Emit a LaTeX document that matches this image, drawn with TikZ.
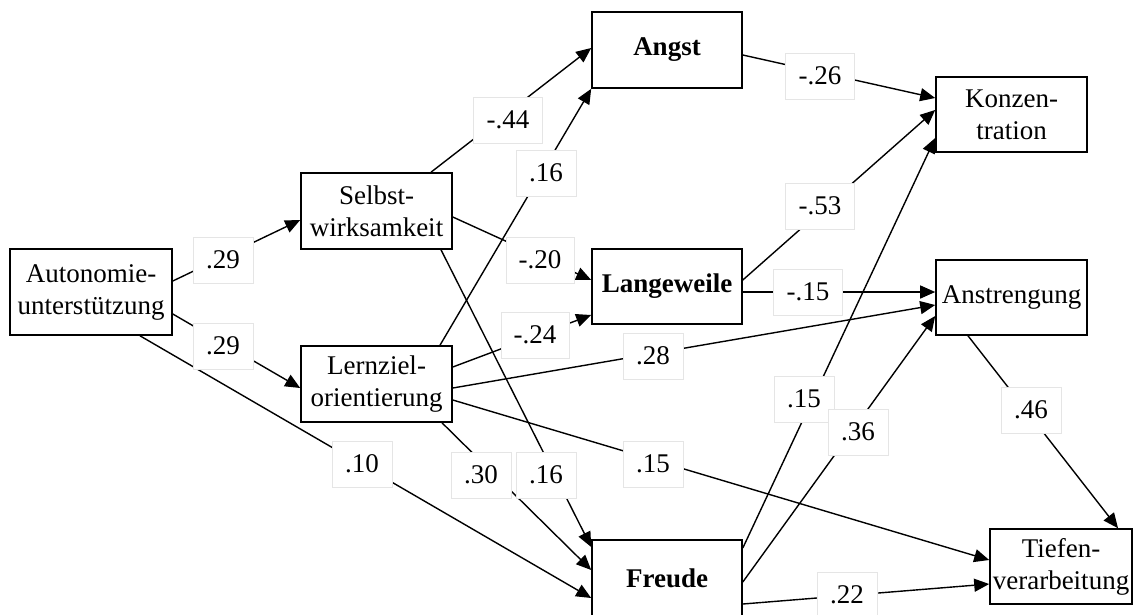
\documentclass[tikz,border=0pt]{standalone}
\usepackage{fontspec}
\setmainfont{Liberation Serif}
\usetikzlibrary{arrows.meta,calc}

\begin{document}
\begin{tikzpicture}[x=1pt,y=-1pt,
  every node/.style={font=\fontsize{27}{32}\selectfont},
  var/.style={draw, line width=1.6pt, inner sep=0pt, align=center,
    minimum width=151pt, minimum height=76pt},
  emph/.style={font=\fontsize{27}{32}\selectfont\bfseries},
  coef/.style={draw=black!10, fill=white, line width=0.8pt, inner sep=0pt,
    minimum width=60pt, minimum height=46pt},
  neg/.style={coef, minimum width=69pt},
  path/.style={line width=1.4pt, -{Triangle[length=15pt,width=13pt]}}]

\useasboundingbox (0,0) rectangle (1134,614);
\clip (0,0) rectangle (1134,614);

% constructs
\node[var, minimum width=162pt, minimum height=86pt] (auto) at (91,292) {Autonomie-\\unterstützung};
\node[var] (selbst) at (376.5,211) {Selbst-\\wirksamkeit};
\node[var] (lern) at (376.5,384) {Lernziel-\\orientierung};
\node[var, emph, minimum width=150pt] (angst) at (667,50) {Angst};
\node[var, emph, minimum width=150pt, minimum height=75pt] (lang) at (667,286.5) {Langeweile};
\node[var, emph, minimum width=150pt] (freude) at (667,578) {Freude};
\node[var, minimum height=75pt] (konz) at (1011.5,114.5) {Konzen-\\tration};
\node[var, minimum height=75pt] (anstr) at (1011.5,297.5) {Anstrengung};
\node[var, minimum width=142pt, minimum height=75pt] (tiefen) at (1061,566.5) {Tiefen-\\verarbeitung};

% paths
\draw[path] ($(auto.east)+(0,-11)$) -- ($(selbst.west)+(0,9)$);
\draw[path] ($(auto.east)+(0,22)$) -- ($(lern.west)+(0,4)$);
\draw[path] ($(auto.south)+(49,0)$) -- ($(freude.west)+(0,20)$);
\draw[path] ($(selbst.north)+(54.5,0)$) -- ($(angst.west)+(0,-2)$);
\draw[path] ($(selbst.east)+(0,6)$) -- ($(lang.west)+(0,-6.5)$);
\draw[path] ($(selbst.south)+(64.5,0)$) -- ($(freude.west)+(0,-31)$);
\draw[path] ($(lern.north)+(63.5,0)$) -- (angst.south west);
\draw[path] ($(lern.east)+(0,-17)$) -- ($(lang.west)+(0,28.5)$);
\draw[path] ($(lern.east)+(0,4)$) -- ($(anstr.west)+(0,7.5)$);
\draw[path] ($(lern.east)+(0,16)$) -- ($(tiefen.west)+(0,-6.5)$);
\draw[path] ($(lern.south)+(65.5,0)$) -- ($(freude.west)+(0,-8)$);
\draw[path] ($(angst.east)+(0,5)$) -- ($(konz.west)+(0,-16.5)$);
\draw[path] ($(lang.east)+(0,-6.5)$) -- ($(konz.west)+(0,-4.5)$);
\draw[path] ($(lang.east)+(0,5.5)$) -- ($(anstr.west)+(0,-5.5)$);
\draw[path] ($(freude.east)+(0,-30)$) -- ($(konz.west)+(0,23.5)$);
\draw[path] ($(freude.east)+(0,4)$) -- ($(anstr.west)+(0,18.5)$);
\draw[path] ($(freude.east)+(0,26)$) -- ($(tiefen.west)+(0,17.5)$);
\draw[path] ($(anstr.south)+(-43.5,0)$) -- ($(tiefen.north)+(57,0)$);

% path coefficients
\node[coef] (c1) at (223,260) {.29};
\node[coef] (c2) at (223,346) {.29};
\node[coef] (c3) at (362,464) {.10};
\node[neg] (c4) at (508,120) {-.44};
\node[coef] (c5) at (546,173) {.16};
\node[neg, minimum width=68pt] (c6) at (540,260) {-.20};
\node[neg, minimum width=68pt] (c7) at (535,335) {-.24};
\node[coef] (c8) at (653,356) {.28};
\node[coef] (c9) at (481,475) {.30};
\node[coef] (c10) at (546,475) {.16};
\node[coef] (c11) at (653,464) {.15};
\node[neg] (c12) at (820,76) {-.26};
\node[neg] (c13) at (820,206) {-.53};
\node[neg] (c14) at (808,292) {-.15};
\node[coef] (c15) at (804,399) {.15};
\node[coef] (c16) at (858,432) {.36};
\node[coef] (c17) at (847,595) {.22};
\node[coef] (c18) at (1031,410) {.46};

\end{tikzpicture}
\end{document}
